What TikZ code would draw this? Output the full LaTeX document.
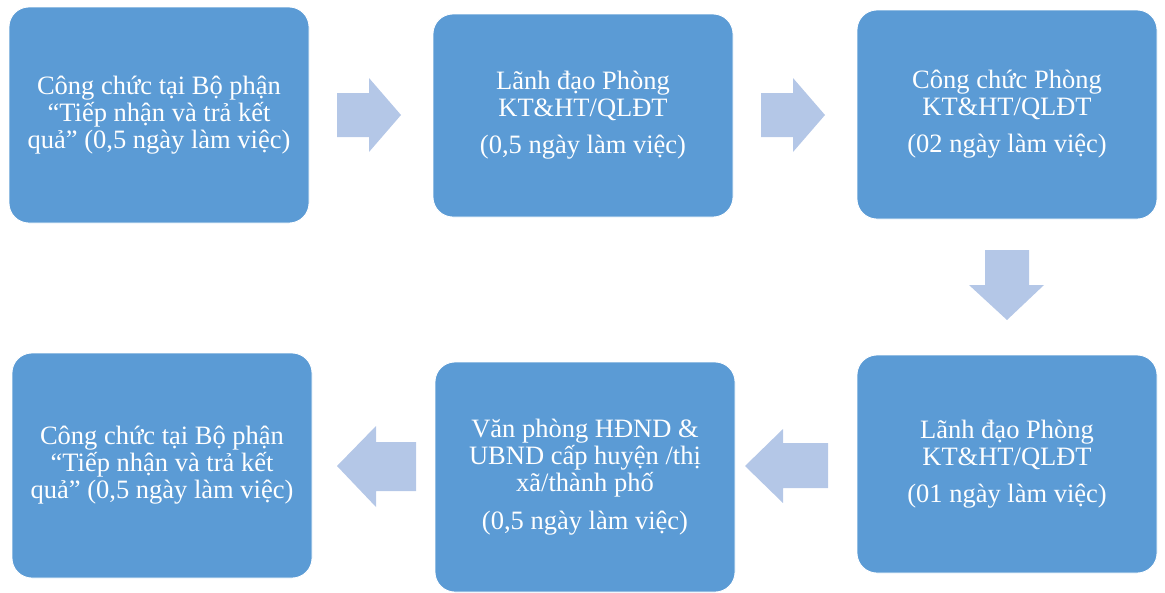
\documentclass[tikz,border=0pt]{standalone}
\usepackage{fontspec}
\setmainfont{Liberation Serif}
\definecolor{boxblue}{HTML}{5B9BD5}
\definecolor{arrowblue}{HTML}{B4C7E7}
\tikzset{
  box/.style={draw=white, line width=0.8pt, fill=boxblue, rounded corners=20pt,
    text=white, align=center, inner sep=0pt, minimum width=300pt,
    font=\fontsize{26.5}{27}\selectfont},
  blockarrow/.style={fill=arrowblue, draw=none}
}
\begin{document}
\begin{tikzpicture}[x=1pt,y=-1pt]
\useasboundingbox (0,0) rectangle (1165,592);
% boxes
\node[box, minimum height=216pt] (b1) at (159,115)
  {Công chức tại Bộ phận\\“Tiếp nhận và trả kết\\quả” (0,5 ngày làm việc)};
\node[box, minimum height=203pt] (b2) at (583,115.5)
  {Lãnh đạo Phòng\\KT\&HT/QLĐT\\[10pt](0,5 ngày làm việc)};
\node[box, minimum height=209pt] (b3) at (1007,114.5)
  {Công chức Phòng\\KT\&HT/QLĐT\\[10pt](02 ngày làm việc)};
\node[box, minimum height=218pt] (b6) at (1007,464)
  {Lãnh đạo Phòng\\KT\&HT/QLĐT\\[10pt](01 ngày làm việc)};
\node[box, minimum height=230pt] (b5) at (585,477)
  {Văn phòng HĐND \&\\UBND cấp huyện /thị\\xã/thành phố\\[11pt](0,5 ngày làm việc)};
\node[box, minimum height=225pt] (b4) at (162,465.5)
  {Công chức tại Bộ phận\\“Tiếp nhận và trả kết\\quả” (0,5 ngày làm việc)};
% block arrows
\fill[blockarrow] (337,93) -- (369,93) -- (369,78) -- (401,115) -- (369,152) -- (369,137) -- (337,137) -- cycle;
\fill[blockarrow] (761,93) -- (793,93) -- (793,78) -- (825,115) -- (793,152) -- (793,137) -- (761,137) -- cycle;
\fill[blockarrow] (985,250) -- (1029,250) -- (1029,285) -- (1044,285) -- (1007,320) -- (969,285) -- (985,285) -- cycle;
\fill[blockarrow] (828,443) -- (783,443) -- (783,429) -- (745,466) -- (783,503) -- (783,488) -- (828,488) -- cycle;
\fill[blockarrow] (416,442) -- (376,442) -- (376,426) -- (337,466) -- (376,507) -- (376,491) -- (416,491) -- cycle;
\end{tikzpicture}
\end{document}
